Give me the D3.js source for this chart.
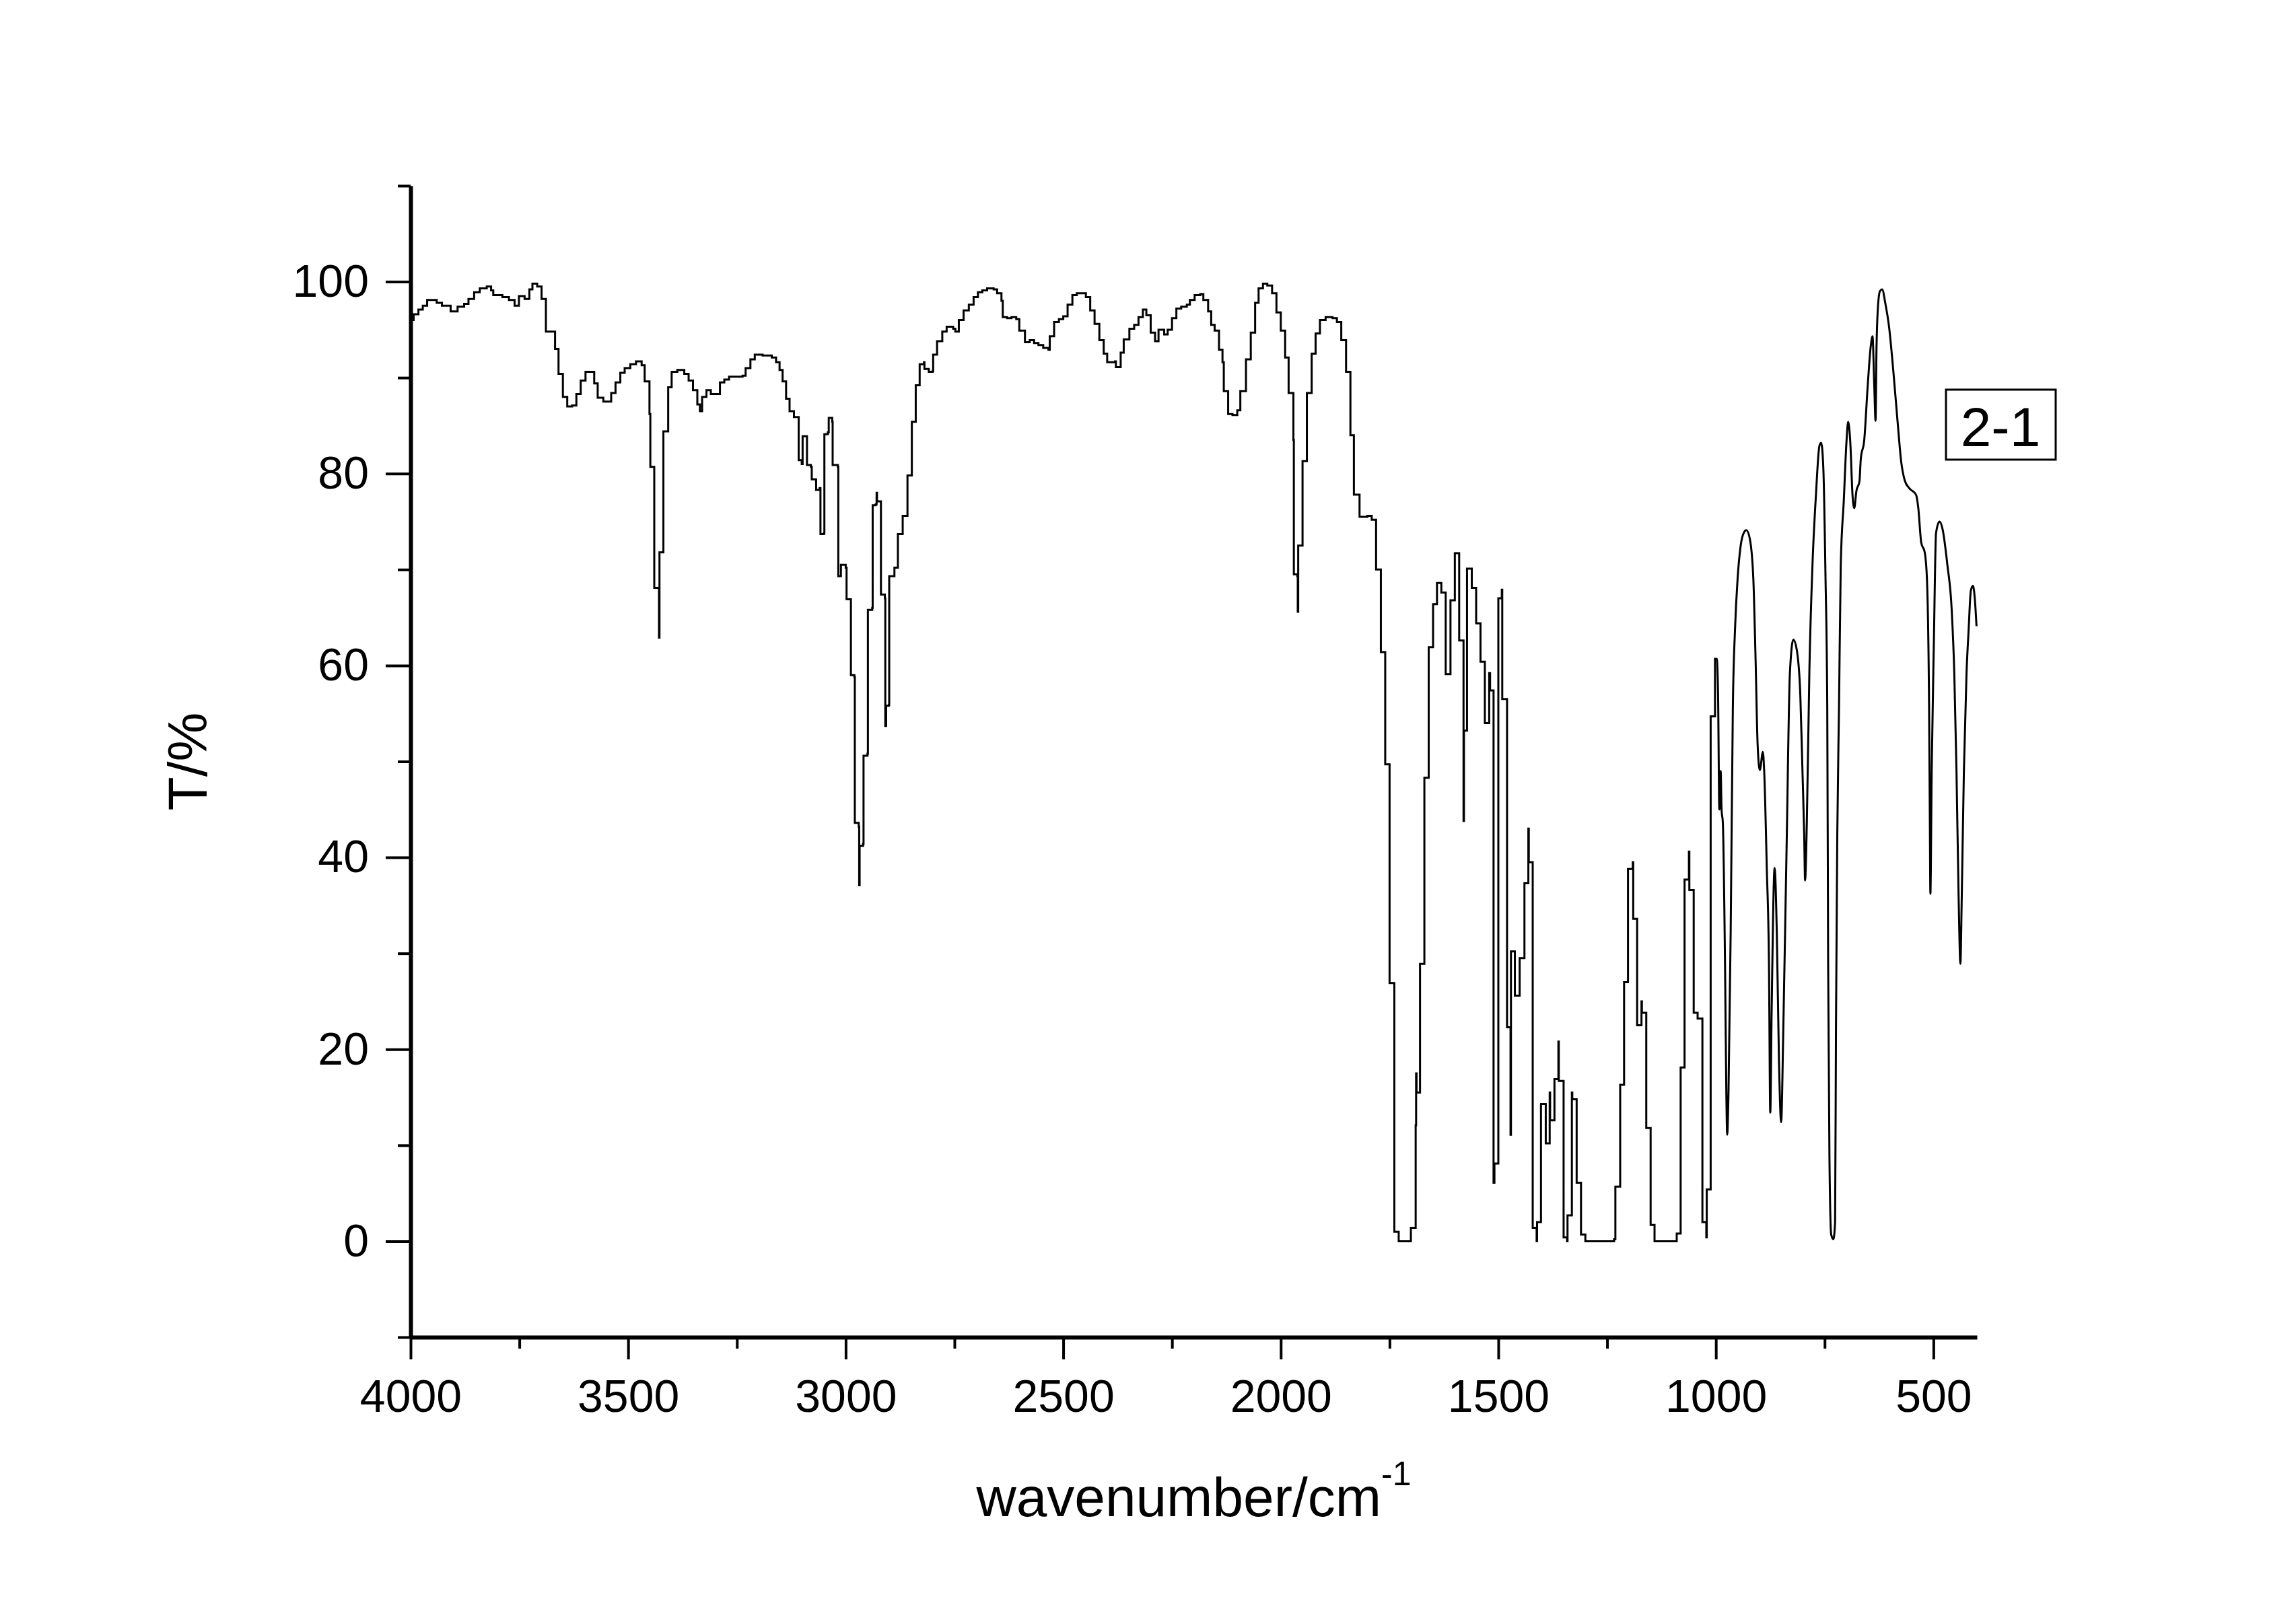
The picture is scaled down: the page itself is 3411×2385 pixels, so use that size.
<!DOCTYPE html>
<html>
<head>
<meta charset="utf-8">
<script src="https://d3js.org/d3.v7.min.js"></script>
<style>
  body { margin: 0; background: #fff; }
  svg { display: block; font-family: "Liberation Sans", Arial, sans-serif; }
</style>
</head>
<body>
<svg></svg>
<script>
// tick values
var xMajor = [4000, 3500, 3000, 2500, 2000, 1500, 1000, 500];
var xMinor = [3750, 3250, 2750, 2250, 1750, 1250, 750];
var yMajor = [0, 20, 40, 60, 80, 100];
var yMinor = [-10, 10, 30, 50, 70, 90, 110];
var sampleName = "2-1";

// low resolution part of the spectrum, drawn as steps: [wavenumber, T%]
var stepped = [
  [4000, 96.0], [3993, 96.6], [3982, 97.1], [3972, 97.5], [3962, 98.1], [3940, 97.8], [3928, 97.5],
  [3908, 96.9], [3892, 97.4], [3877, 97.7], [3867, 98.2], [3854, 98.9], [3841, 99.3], [3825, 99.5],
  [3815, 99.1], [3810, 98.6], [3789, 98.4], [3774, 98.1], [3761, 97.5], [3751, 98.5], [3738, 98.2],
  [3727, 99.2], [3720, 99.8], [3709, 99.5], [3699, 98.2], [3689, 94.8], [3668, 93.0], [3660, 90.4],
  [3650, 88.0], [3640, 87.0], [3629, 87.1], [3619, 88.3], [3609, 89.7], [3598, 90.6], [3578, 89.4],
  [3570, 87.9], [3557, 87.5], [3539, 88.4], [3529, 89.5], [3518, 90.5], [3508, 91.0], [3495, 91.4],
  [3482, 91.7], [3469, 91.3], [3462, 89.6], [3451, 86.2], [3449, 80.7], [3440, 68.1], [3429, 62.9],
  [3428, 71.8], [3419, 84.4], [3408, 89.0], [3400, 90.6], [3387, 90.8], [3371, 90.4], [3361, 89.7],
  [3351, 88.7], [3341, 87.2], [3335, 86.5], [3330, 88.0], [3320, 88.7], [3310, 88.3], [3289, 89.5],
  [3279, 89.8], [3268, 90.1], [3237, 90.2], [3230, 91.0], [3219, 91.9], [3209, 92.4], [3191, 92.3],
  [3170, 92.1], [3160, 91.6], [3152, 90.8], [3145, 89.6], [3137, 87.8], [3129, 86.5], [3119, 85.9],
  [3108, 81.4], [3101, 81.0], [3099, 83.9], [3089, 80.9], [3080, 80.7], [3078, 79.4], [3068, 78.3],
  [3060, 78.5], [3058, 73.7], [3050, 73.8], [3049, 84.1], [3041, 84.3], [3039, 85.8], [3031, 85.4],
  [3030, 80.9], [3018, 80.7], [3017, 69.3], [3011, 70.5], [3000, 70.2], [2998, 66.9], [2988, 59.0],
  [2980, 58.8], [2979, 43.6], [2970, 43.2], [2969, 37.1], [2968, 41.2], [2960, 41.4], [2959, 50.6],
  [2950, 50.8], [2949, 65.8], [2939, 66.0], [2938, 76.7], [2931, 76.8], [2929, 78.0], [2928, 77.1],
  [2919, 67.4], [2910, 67.0], [2909, 53.7], [2907, 55.8], [2901, 55.9], [2900, 69.3], [2888, 70.2],
  [2880, 73.7], [2869, 75.6], [2858, 79.8], [2848, 85.4], [2839, 89.2], [2830, 91.4], [2820, 91.6],
  [2819, 90.9], [2809, 90.6], [2800, 90.7], [2799, 92.4], [2790, 93.8], [2778, 94.8], [2768, 95.3],
  [2753, 95.1], [2748, 94.8], [2740, 96.0], [2729, 97.0], [2717, 97.6], [2706, 98.4], [2696, 98.9],
  [2686, 99.1], [2675, 99.3], [2660, 99.2], [2652, 98.8], [2642, 98.0], [2639, 96.3], [2629, 96.2],
  [2619, 96.3], [2608, 96.1], [2601, 94.9], [2588, 93.7], [2577, 93.9], [2567, 93.6], [2557, 93.4],
  [2546, 93.1], [2534, 92.9], [2531, 94.3], [2521, 95.8], [2510, 96.1], [2500, 96.4], [2490, 97.6],
  [2479, 98.6], [2469, 98.8], [2448, 98.4], [2438, 97.0], [2428, 95.6], [2417, 93.9], [2407, 92.5],
  [2399, 91.6], [2381, 91.7], [2379, 91.1], [2368, 92.6], [2361, 94.0], [2348, 95.1], [2337, 95.5],
  [2327, 96.3], [2317, 97.1], [2309, 96.5], [2299, 94.7], [2289, 93.8], [2281, 95.0], [2268, 94.5],
  [2260, 95.0], [2250, 96.2], [2240, 97.2], [2229, 97.4], [2216, 97.6], [2209, 98.1], [2198, 98.6],
  [2185, 98.7], [2178, 98.1], [2167, 96.9], [2160, 95.5], [2152, 94.9], [2142, 92.9], [2134, 91.6],
  [2131, 88.6], [2121, 86.2], [2111, 86.1], [2100, 86.6], [2093, 88.6], [2080, 91.9], [2069, 94.7],
  [2059, 97.8], [2051, 99.3], [2041, 99.8], [2031, 99.6], [2020, 98.8], [2010, 96.8], [2000, 94.9],
  [1990, 92.1], [1982, 88.4], [1971, 83.5], [1970, 69.5], [1962, 69.3], [1961, 65.6], [1960, 72.5],
  [1950, 81.3], [1940, 88.4], [1929, 92.5], [1920, 94.6], [1910, 96.0], [1897, 96.3], [1881, 96.2],
  [1871, 95.8], [1861, 93.9], [1850, 90.6], [1840, 84.0], [1832, 77.8], [1819, 75.5], [1801, 75.6],
  [1791, 75.2], [1781, 70.0], [1770, 61.4], [1760, 49.7], [1750, 26.9], [1739, 1.0], [1729, 0.0],
  [1701, 1.4], [1690, 12.1], [1689, 17.5], [1688, 15.5], [1680, 28.9], [1670, 48.3], [1660, 61.9],
  [1650, 66.4], [1641, 68.6], [1631, 67.6], [1621, 59.1], [1610, 66.8], [1600, 71.7], [1590, 62.6],
  [1580, 43.8], [1579, 53.2], [1572, 70.1], [1561, 68.1], [1551, 64.4], [1541, 60.4], [1531, 54.0],
  [1521, 59.2], [1519, 57.4], [1511, 6.1], [1509, 8.1], [1500, 67.0], [1492, 67.9], [1491, 56.5],
  [1480, 22.3], [1472, 11.1], [1471, 30.2], [1462, 25.6], [1451, 29.5], [1440, 37.3], [1431, 43.0],
  [1430, 39.5], [1421, 1.4], [1412, 0.0], [1411, 2.0], [1402, 14.3], [1391, 10.2], [1382, 15.5],
  [1381, 12.6], [1371, 16.9], [1362, 20.8], [1361, 16.7], [1350, 0.4], [1342, 0.0], [1341, 2.7],
  [1331, 15.5], [1330, 14.8], [1320, 6.1], [1310, 0.7], [1300, 0.0], [1234, 0.2], [1231, 5.7],
  [1220, 16.3], [1211, 27.0], [1202, 38.8], [1191, 39.5], [1190, 33.6], [1181, 22.5], [1171, 25.0],
  [1170, 23.8], [1160, 11.8], [1150, 1.7], [1141, 0.0], [1090, 0.8], [1081, 18.1], [1072, 37.7],
  [1062, 40.6], [1061, 36.6], [1051, 23.8], [1042, 23.2], [1031, 2.0], [1022, 0.4], [1021, 5.4],
  [1012, 54.7], [1002, 60.7], [1000, 60.7]
];

// high resolution fingerprint part, drawn smooth: [wavenumber, T%]
var smooth = [
  [1000, 60.7], [998, 60.7], [995, 57.0], [992, 45.0], [989, 49.0], [987, 45.0], [984, 43.6],
  [979, 28.9], [976, 15.5], [974, 11.1], [971, 15.5], [966, 32.2], [961, 55.7], [956, 63.8],
  [950, 69.1], [943, 72.5], [935, 73.9], [930, 74.1], [922, 73.2], [914, 69.1], [909, 61.1],
  [904, 51.7], [899, 49.1], [892, 51.0], [889, 49.0], [883, 38.9], [878, 28.9], [875, 13.4],
  [872, 23.5], [865, 38.9], [860, 32.2], [855, 18.8], [850, 12.4], [845, 22.2], [837, 42.3],
  [830, 59.1], [822, 62.7], [814, 61.6], [806, 57.0], [801, 49.0], [797, 42.3], [795, 37.6],
  [791, 43.6], [785, 59.7], [778, 70.5], [770, 77.8], [762, 82.9], [758, 83.2], [753, 80.5],
  [748, 69.1], [744, 55.7], [742, 28.9], [739, 8.8], [735, 0.7], [730, 0.2], [726, 2.0],
  [724, 22.2], [721, 42.3], [717, 55.7], [713, 70.5], [706, 77.2], [700, 83.2], [696, 85.4],
  [691, 83.2], [686, 77.8], [682, 76.4], [677, 78.2], [670, 79.2], [667, 81.5], [659, 83.5],
  [651, 89.2], [644, 93.3], [640, 94.3], [636, 89.2], [633, 85.5], [631, 92.6], [628, 97.0],
  [623, 99.0], [618, 99.2], [610, 97.6], [602, 95.3], [592, 90.6], [582, 85.2], [574, 81.2],
  [566, 79.3], [556, 78.5], [540, 77.8], [535, 76.5], [528, 72.8], [520, 71.8], [515, 69.1],
  [510, 55.7], [508, 42.3], [507, 36.2], [504, 49.0], [499, 62.4], [494, 73.8], [486, 75.0],
  [479, 74.2], [468, 70.5], [458, 65.8], [452, 59.1], [447, 49.0], [442, 35.6], [438, 28.9],
  [435, 35.6], [430, 49.0], [424, 59.1], [419, 63.8], [414, 67.8], [409, 68.3], [404, 66.4],
  [401, 64.1]
];

var svg = d3.select("svg")
    .attr("width", 3411)
    .attr("height", 2385);

svg.append("rect")
    .attr("width", 3411)
    .attr("height", 2385)
    .attr("fill", "#fff");

var x = d3.scaleLinear().domain([4000, 400]).range([610, 2937]);
var y = d3.scaleLinear().domain([-10, 110]).range([1987, 276]);

var tickFont = 68;

// x axis: minor ticks, then major ticks with labels
svg.append("g")
    .attr("transform", "translate(0," + y(-10) + ")")
    .call(d3.axisBottom(x).tickValues(xMinor).tickSize(17).tickSizeOuter(0).tickFormat(""))
    .call(function(g) { g.select(".domain").remove(); })
    .selectAll("line").attr("stroke-width", 4);

var xAxisEl = svg.append("g")
    .attr("transform", "translate(0," + y(-10) + ")")
    .call(d3.axisBottom(x).tickValues(xMajor).tickSize(33).tickSizeOuter(0)
      .tickPadding(30).tickFormat(d3.format("d")));
xAxisEl.selectAll("line").attr("stroke-width", 4);
xAxisEl.select(".domain").attr("stroke-width", 6);
xAxisEl.selectAll("text")
    .attr("font-size", tickFont)
    .attr("font-family", "Liberation Sans, Arial, sans-serif")
    .attr("fill", "#000");

// y axis
svg.append("g")
    .attr("transform", "translate(" + x(4000) + ",0)")
    .call(d3.axisLeft(y).tickValues(yMinor).tickSize(19).tickSizeOuter(0).tickFormat(""))
    .call(function(g) { g.select(".domain").remove(); })
    .selectAll("line").attr("stroke-width", 4);

var yAxisEl = svg.append("g")
    .attr("transform", "translate(" + x(4000) + ",0)")
    .call(d3.axisLeft(y).tickValues(yMajor).tickSize(37).tickSizeOuter(0)
      .tickPadding(25).tickFormat(d3.format("d")));
yAxisEl.selectAll("line").attr("stroke-width", 4);
yAxisEl.select(".domain").attr("stroke-width", 6);
yAxisEl.selectAll("text")
    .attr("font-size", tickFont)
    .attr("font-family", "Liberation Sans, Arial, sans-serif")
    .attr("fill", "#000");

// spectrum
var stepLine = d3.line()
    .x(function(d) { return x(d[0]); })
    .y(function(d) { return y(d[1]); })
    .curve(d3.curveStepAfter);

var smoothLine = d3.line()
    .x(function(d) { return x(d[0]); })
    .y(function(d) { return y(d[1]); })
    .curve(d3.curveMonotoneX);

svg.append("path")
    .datum(stepped)
    .attr("d", stepLine)
    .attr("fill", "none")
    .attr("stroke", "#000")
    .attr("stroke-width", 3);

svg.append("path")
    .datum(smooth)
    .attr("d", smoothLine)
    .attr("fill", "none")
    .attr("stroke", "#000")
    .attr("stroke-width", 3)
    .attr("stroke-linejoin", "round");

// axis titles
var xTitle = svg.append("text")
    .attr("x", (x(4000) + x(400)) / 2)
    .attr("y", 2253)
    .attr("text-anchor", "middle")
    .attr("font-size", 82)
    .attr("fill", "#000");
xTitle.append("tspan").text("wavenumber/cm");
xTitle.append("tspan")
    .attr("dy", -46)
    .attr("font-size", 50)
    .text("-1");

svg.append("text")
    .attr("transform", "translate(307," + y(50) + ") rotate(-90)")
    .attr("text-anchor", "middle")
    .attr("font-size", 82)
    .attr("fill", "#000")
    .text("T/%");

// sample label box
var legend = svg.append("g").attr("transform", "translate(2891,579)");
legend.append("rect")
    .attr("width", 163)
    .attr("height", 104)
    .attr("fill", "#fff")
    .attr("stroke", "#000")
    .attr("stroke-width", 3);
legend.append("text")
    .attr("x", 81)
    .attr("y", 84)
    .attr("text-anchor", "middle")
    .attr("font-size", 82)
    .attr("fill", "#000")
    .text(sampleName);
</script>
</body>
</html>
